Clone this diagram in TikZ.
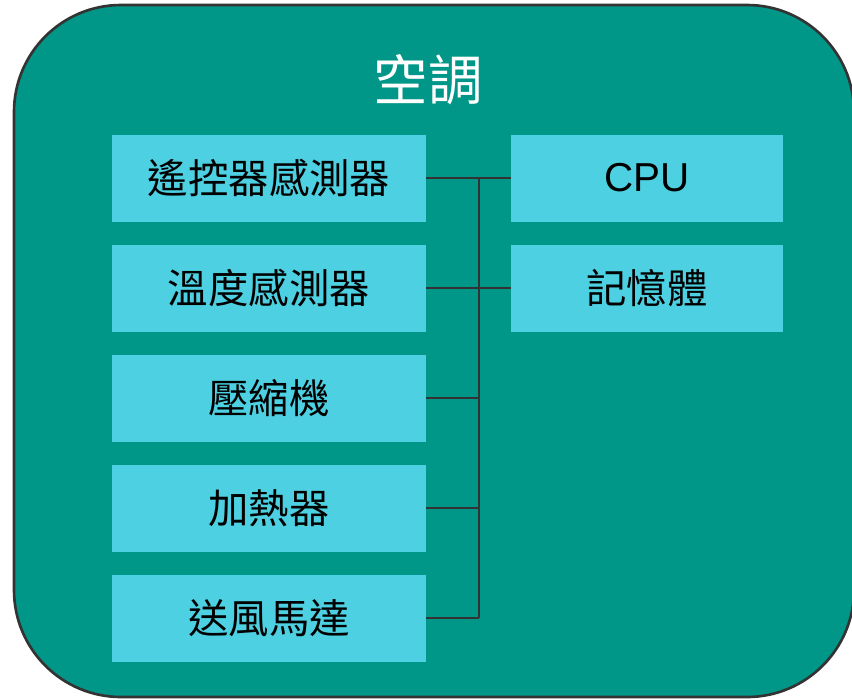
\documentclass[tikz,border=0pt]{standalone}
\usepackage{fontspec}
\setmainfont{Noto Sans CJK TC}
\newfontfamily\latinfont{Liberation Sans}
\usepackage{tikz}

\definecolor{teal}{HTML}{009688}
\definecolor{cyanbox}{HTML}{4DD0E1}
\definecolor{edge}{HTML}{333333}

\begin{document}
\begin{tikzpicture}[x=0.02cm,y=-0.02cm,
    part/.style={fill=cyanbox,minimum width=6.28cm,minimum height=1.74cm,inner sep=0pt,font=\fontsize{23}{26}\selectfont},
    unit/.style={part,minimum width=5.44cm},
    wire/.style={edge,line width=1.5pt}]
    \useasboundingbox (0,0) rectangle (852,698);
    \begin{scope}
        \clip (0,0) rectangle (852,698);
        \draw[fill=teal,draw=edge,line width=1.5pt,rounded corners=2.14cm] (14,5) rectangle (854,697);
    \end{scope}
    \node[text=white,font=\fontsize{31}{34}\selectfont] (title) at (428,80) {空調};
    \node[part] (remote) at (269,178) {遙控器感測器};
    \node[part] (temp) at (269,288) {溫度感測器};
    \node[part] (comp) at (269,398) {壓縮機};
    \node[part] (heat) at (269,508) {加熱器};
    \node[part] (fan) at (269,618) {送風馬達};
    \node[unit] (cpu) at (647,178) {\latinfont CPU};
    \node[unit] (mem) at (647,288) {記憶體};
    \coordinate (bus) at (479,0);
    \draw[wire] (remote.east) -- (cpu.west);
    \draw[wire] (temp.east) -- (mem.west);
    \foreach \n in {comp,heat,fan}
        \draw[wire] (\n.east) -- (\n.east -| bus);
    \draw[wire] (remote.east -| bus) -- (fan.east -| bus);
\end{tikzpicture}
\end{document}
